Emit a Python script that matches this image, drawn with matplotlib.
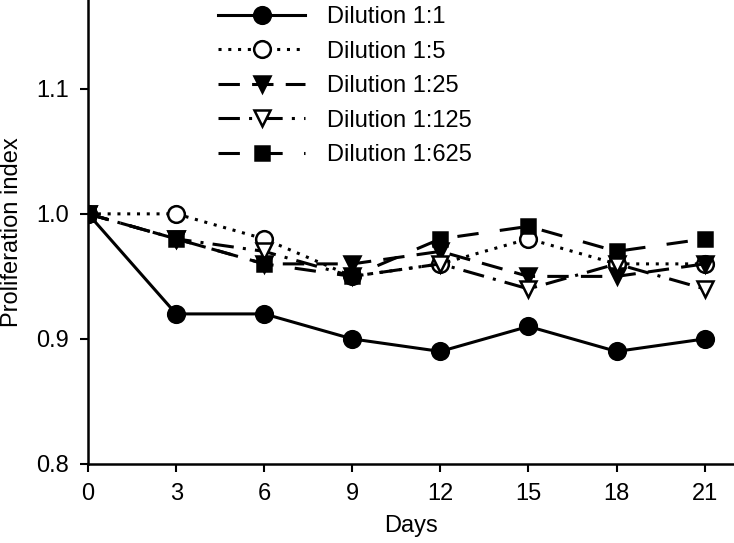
import matplotlib
matplotlib.use("Agg")
import matplotlib.pyplot as plt

plt.rcParams['font.family'] = ['Liberation Sans', 'DejaVu Sans']

days = [0, 3, 6, 9, 12, 15, 18, 21]
labels = ['Dilution 1:1', 'Dilution 1:5', 'Dilution 1:25', 'Dilution 1:125', 'Dilution 1:625']
d1 = [1.00, 0.92, 0.92, 0.90, 0.89, 0.91, 0.89, 0.90]
d5 = [1.00, 1.00, 0.98, 0.95, 0.96, 0.98, 0.96, 0.96]
d25 = [1.00, 0.98, 0.96, 0.96, 0.97, 0.95, 0.95, 0.96]
d125 = [1.00, 0.98, 0.97, 0.95, 0.96, 0.94, 0.96, 0.94]
d625 = [1.00, 0.98, 0.96, 0.95, 0.98, 0.99, 0.97, 0.98]

fig = plt.figure(figsize=(7.34, 5.43), dpi=100)
ax = fig.add_axes([0.12, 0.1455, 0.88, 0.8545])

# line style / marker per dilution
styles = [
    dict(ls='-', marker='o', mfc='black', ms=12),
    dict(ls=(0, (1, 2.2)), marker='o', mfc='white', ms=12),
    dict(ls=(0, (7, 4)), marker='v', mfc='black', ms=12),
    dict(ls=(0, (7, 3, 1, 3)), marker='v', mfc='white', ms=12),
    dict(ls=(0, (7, 7)), marker='s', mfc='black', ms=10.5),
]
series = [d1, d5, d25, d125, d625]
for vals, lab, st in zip(series, labels, styles):
    ax.plot(days, vals, color='black', lw=2.2, mec='black', mew=1.8,
            label=lab, **st)

ax.set_xlim(0, 22)
ax.set_ylim(0.8, 1.171)
ax.set_xticks(days)
ax.set_yticks([0.8, 0.9, 1.0, 1.1])
ax.set_yticklabels(['0.8', '0.9', '1.0', '1.1'])
ax.spines['top'].set_visible(False)
ax.spines['right'].set_visible(False)
ax.spines['left'].set_linewidth(1.8)
ax.spines['bottom'].set_linewidth(1.8)
ax.tick_params(direction='out', length=6, width=1.5, labelsize=17)
ax.tick_params(axis='x', pad=8)
ax.tick_params(axis='y', pad=8)
ax.set_xlabel('Days', fontsize=17, labelpad=7)
ax.set_ylabel('Proliferation index', fontsize=17, labelpad=9)

ax.legend(loc='upper left', bbox_to_anchor=(218 / 734, 1 - 6 / 543),
          bbox_transform=fig.transFigure, frameon=False, borderpad=0,
          borderaxespad=0, fontsize=17, handlelength=3.7, labelspacing=0.53,
          handletextpad=0.93)

fig.savefig('out.png', dpi=100)
